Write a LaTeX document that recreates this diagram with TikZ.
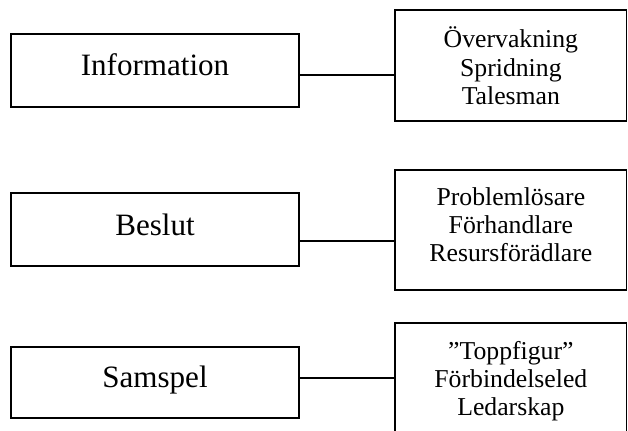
\documentclass[tikz,border=0pt]{standalone}
\usepackage{fontspec}
\setmainfont{Liberation Serif}
\begin{document}
\begin{tikzpicture}[x=0.75pt,y=-0.75pt,
  box/.style={draw,line width=1.1pt,rectangle,inner sep=0pt,outer sep=0pt,anchor=north west},
  lbox/.style={box,minimum width=216pt,font=\fontsize{23.3}{28}\selectfont},
  rbox/.style={box,minimum width=173.8pt,font=\fontsize{19.3}{21.2}\selectfont},
  link/.style={line width=1.1pt}]
\clip (0,0) rectangle (628,430);

% role groups (left column)
\node[lbox,text height=30.75pt,text depth=24pt]   (info)  at (11,34)  {Information};
\node[lbox,text height=31.5pt,text depth=23.25pt] (dec)   at (11,193) {Beslut};
\node[lbox,text height=30pt,text depth=23.25pt]   (inter) at (11,347) {Samspel};

% roles within each group (right column)
\node[rbox,text height=28.3pt,text depth=55pt] (infoR) at (395,10)
  {\begin{tabular}[t]{@{}c@{}}Övervakning\\Spridning\\Talesman\end{tabular}};
\node[rbox,text height=26.25pt,text depth=63.75pt] (decR) at (395,170)
  {\begin{tabular}[t]{@{}c@{}}Problemlösare\\Förhandlare\\Resursförädlare\end{tabular}};
\node[rbox,text height=27pt,text depth=64.5pt] (interR) at (395,323)
  {\begin{tabular}[t]{@{}c@{}}”Toppfigur”\\Förbindelseled\\Ledarskap\end{tabular}};

% connectors
\draw[link] (info.east |- 0,75)   -- (infoR.west |- 0,75);
\draw[link] (dec.east |- 0,241)   -- (decR.west |- 0,241);
\draw[link] (inter.east |- 0,378) -- (interR.west |- 0,378);
\end{tikzpicture}
\end{document}
